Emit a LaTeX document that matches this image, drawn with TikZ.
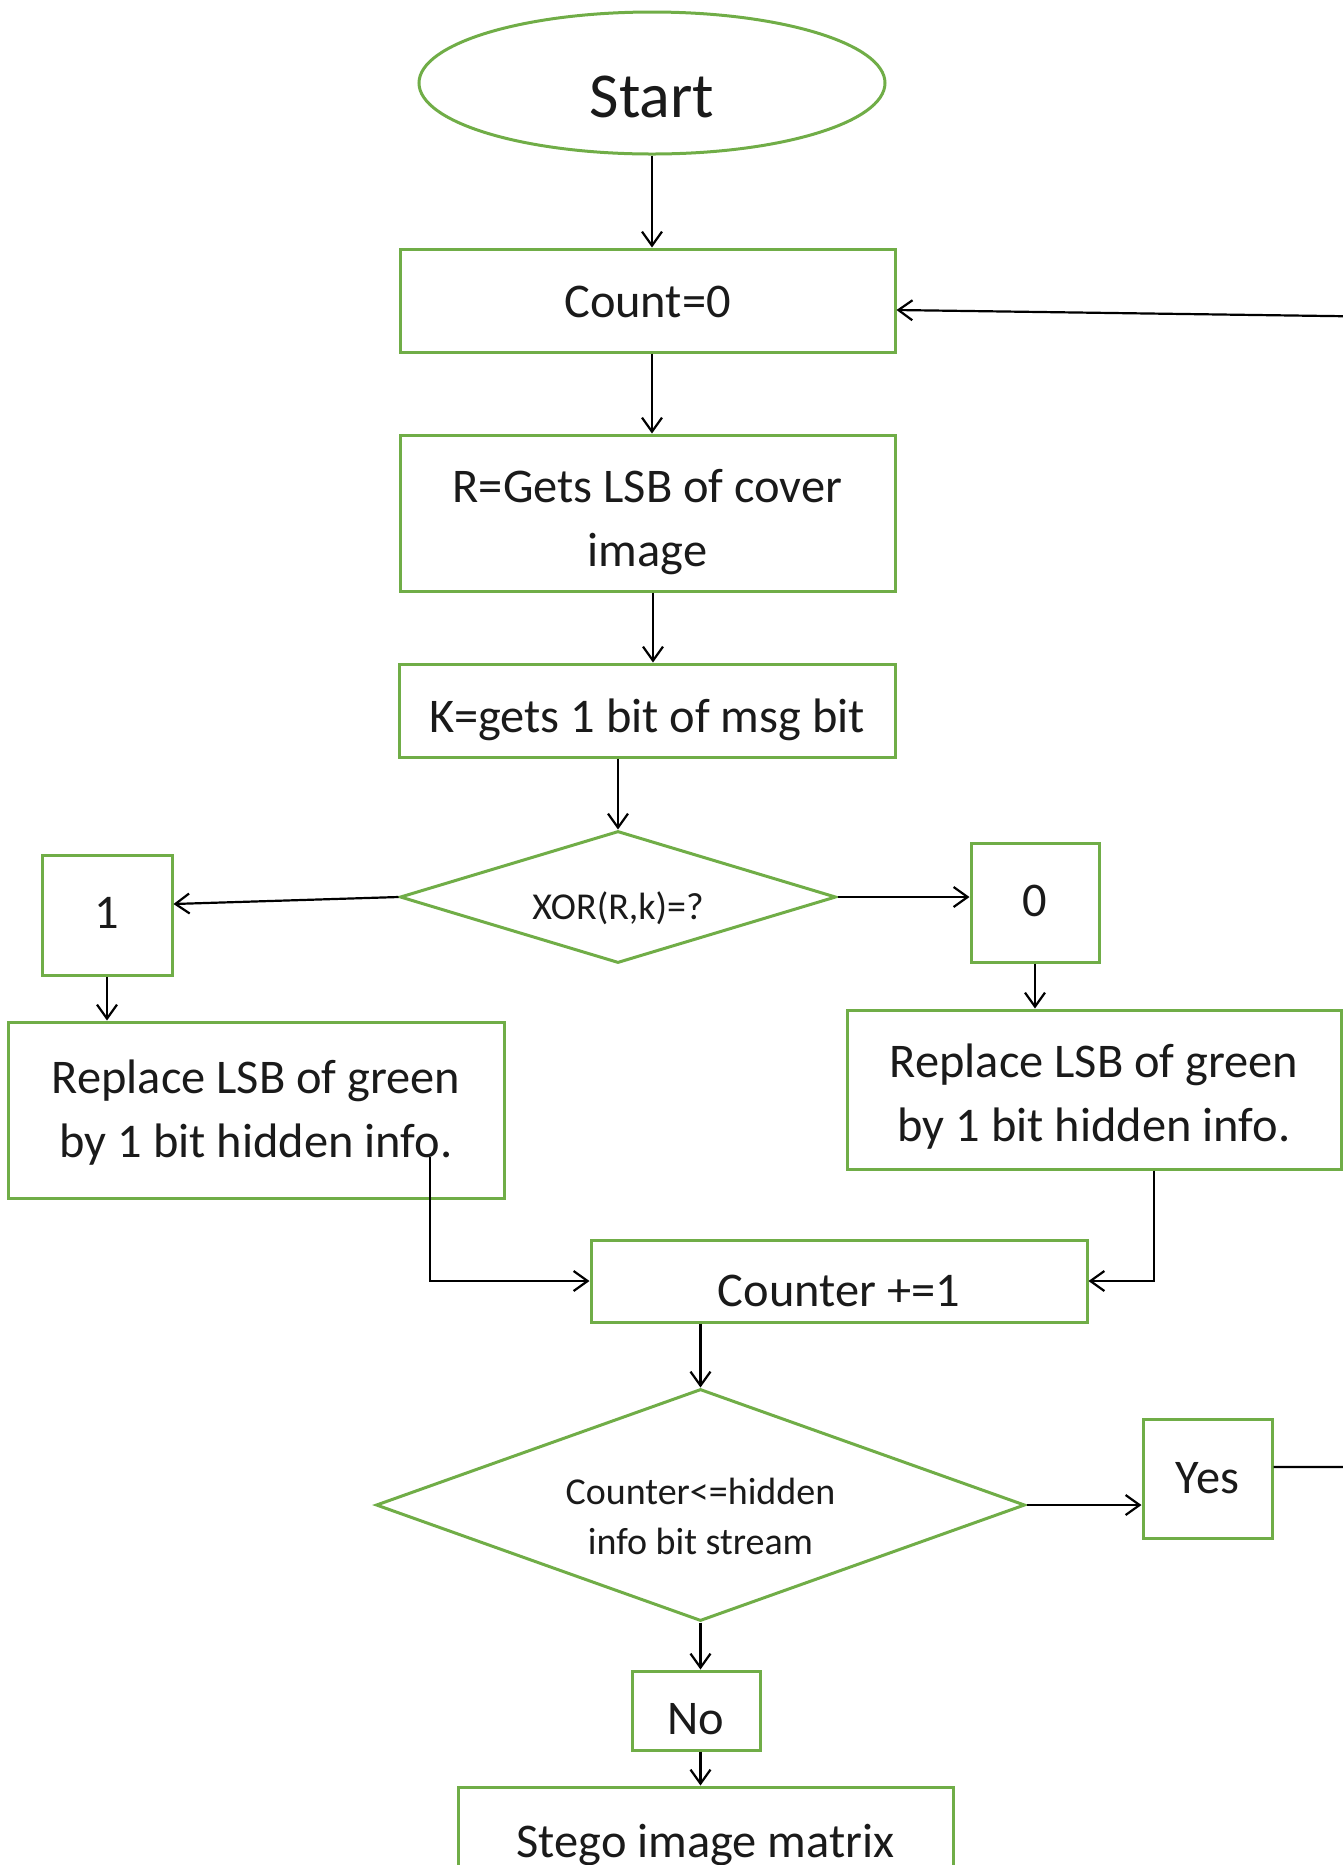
\documentclass[tikz,border=0pt]{standalone}
\usepackage{fontspec}
\setmainfont{Carlito}
\usetikzlibrary{shapes.geometric,arrows.meta,calc}
\definecolor{boxgreen}{HTML}{70AD47}
\definecolor{txt}{HTML}{1A1A1A}
\begin{document}
\begin{tikzpicture}[x=0.5pt,y=-0.5pt,
  greenline/.style={draw=boxgreen,line width=1.5pt},
  box/.style={greenline,rectangle,inner sep=0pt},
  decide/.style={greenline,diamond,inner sep=0pt},
  term/.style={greenline,ellipse,inner sep=0pt},
  mtext/.style={text=txt,align=center,inner sep=0pt,font=\fontsize{24.2}{32}\selectfont},
  stext/.style={text=txt,align=center,inner sep=0pt,font=\fontsize{19}{25}\selectfont},
  ttext/.style={text=txt,align=center,inner sep=0pt,font=\fontsize{32}{38}\selectfont},
  conn/.style={draw=black,line width=1.1pt,-{Straight Barb[length=7pt,width=10pt,line width=1.1pt]}}
]
\useasboundingbox (0,0) rectangle (1343,1865);
\clip (0,0) rectangle (1343,1865);

\node[term,minimum width=233pt,minimum height=71pt,
  label={[ttext,yshift=-7pt]center:{Start}}] (start) at (652,83) {};
\node[box,minimum width=247.5pt,minimum height=51.5pt,
  label={[mtext,yshift=-0.5pt]center:{Count=0}}] (count) at (647.5,300.5) {};
\node[box,minimum width=247.5pt,minimum height=78pt,
  label={[mtext,yshift=-4.5pt]center:{R=Gets LSB of cover\\image}}] (r) at (647.5,513) {};
\node[box,minimum width=248pt,minimum height=46.5pt,
  label={[mtext,yshift=-4.5pt]center:{K=gets 1 bit of msg bit}}] (k) at (647,710.5) {};
\node[decide,aspect=3.3,minimum width=218pt,minimum height=66pt,
  label={[stext,yshift=-5.5pt]center:{XOR(R,k)=?}}] (d1) at (618,897) {};
\node[box,minimum width=65pt,minimum height=60pt,
  label={[mtext,yshift=1pt]center:{1}}] (b1) at (107,915) {};
\node[box,minimum width=64pt,minimum height=59.5pt,
  label={[mtext,yshift=1pt]center:{0}}] (b0) at (1035,902.5) {};
\node[box,minimum width=248pt,minimum height=88pt,
  label={[mtext,yshift=-1.5pt]center:{Replace LSB of green\\by 1 bit hidden info.}}] (rl) at (256,1110) {};
\node[box,minimum width=247pt,minimum height=79.5pt,
  label={[mtext,yshift=-3.5pt]center:{Replace LSB of green\\by 1 bit hidden info.}}] (rr) at (1094,1089.5) {};
\node[box,minimum width=248pt,minimum height=41pt,
  label={[mtext,yshift=-5pt]center:{Counter +=1}}] (counter) at (839,1281) {};
\node[decide,aspect=2.8,minimum width=324.5pt,minimum height=116pt,
  label={[stext,yshift=-5.5pt]center:{Counter<=hidden\\info bit stream}}] (d2) at (700.5,1505) {};
\node[box,minimum width=64.5pt,minimum height=59.5pt,
  label={[mtext,yshift=0pt]center:{Yes}}] (yes) at (1207.5,1478.5) {};
\node[box,minimum width=64pt,minimum height=39.5pt,
  label={[mtext,yshift=-4.5pt]center:{No}}] (no) at (696,1710.5) {};
\node[box,minimum width=247.5pt,minimum height=46.5pt,
  label={[mtext,yshift=-5.5pt]center:{Stego image matrix}}] (stego) at (705.5,1833.5) {};

\coordinate (rlout) at (430,1157);
\coordinate (loopc) at (1400,317);

\draw[conn] (start.south) -- (start.south |- count.north);
\draw[conn] (start.south |- count.south) -- (start.south |- r.north);
\draw[conn] ([xshift=2.75pt]r.south) -- ([xshift=2.75pt]r.south |- k.north);
\draw[conn] (k.south -| d1.north) -- (d1.north);
\draw[conn] (d1.west) -- ([yshift=5.5pt]b1.east);
\draw[conn] (d1.east) -- (d1.east -| b0.west);
\draw[conn] (b1.south) -- (b1.south |- rl.north);
\draw[conn] (b0.south) -- (b0.south |- rr.north);
\draw[conn] (rlout) |- (counter.west);
\draw[conn] ([xshift=30pt]rr.south) |- (counter.east);
\draw[conn] (counter.south -| d2.north) -- (d2.north);
\draw[conn] (d2.east) -- (d2.east -| yes.west);
\draw[conn] ([yshift=5.75pt]yes.east) -| (loopc) -- ([yshift=-4.75pt]count.east);
\draw[conn] (d2.south) -- (d2.south |- no.north);
\draw[conn] (d2.south |- no.south) -- (d2.south |- stego.north);
\end{tikzpicture}
\end{document}
